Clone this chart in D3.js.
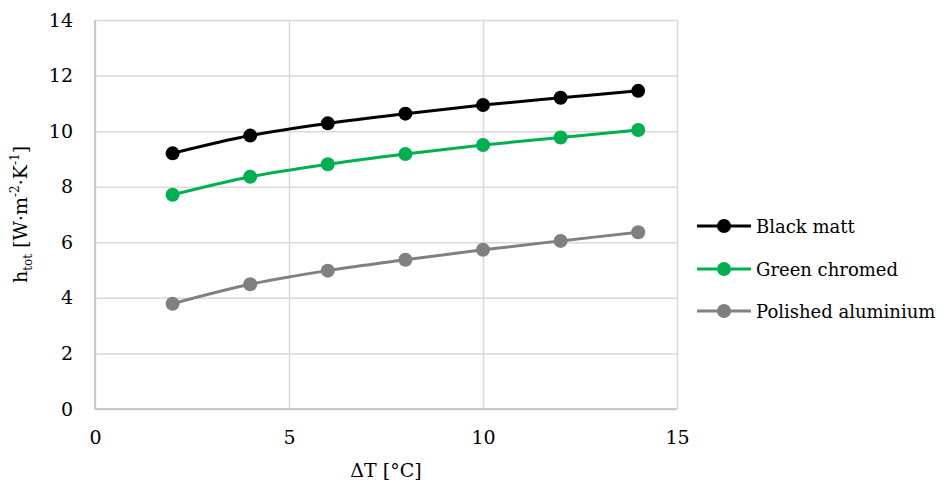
<!DOCTYPE html>
<html>
<head>
<meta charset="utf-8">
<script src="https://cdn.jsdelivr.net/npm/d3@7"></script>
<style>
  body { margin: 0; background: #fff; }
  svg text { font-family: 'DejaVu Serif', serif; }
</style>
</head>
<body>
<div id="chart"></div>
<script>
// data
const deltaT = [2, 4, 6, 8, 10, 12, 14];
const blackMatt = [9.2, 9.84, 10.28, 10.63, 10.94, 11.2, 11.45];
const greenChromed = [7.71, 8.36, 8.81, 9.18, 9.5, 9.77, 10.04];
const polishedAluminium = [3.79, 4.49, 4.98, 5.37, 5.73, 6.05, 6.36];
const seriesNames = ['Black matt', 'Green chromed', 'Polished aluminium'];
const seriesColors = ['#000000', '#00b050', '#808080'];
const xTicks = [0, 5, 10, 15];
const yTicks = [0, 2, 4, 6, 8, 10, 12, 14];

const width = 951, height = 486;
const margin = { left: 95, right: 274, top: 20, bottom: 77 };
const fontSize = 19;

const svg = d3.select('#chart')
  .append('svg')
  .attr('width', width)
  .attr('height', height);

const x = d3.scaleLinear().domain([0, 15]).range([margin.left, width - margin.right]);
const y = d3.scaleLinear().domain([0, 14]).range([height - margin.bottom, margin.top]);

// gridlines
svg.append('g')
  .attr('transform', `translate(0,${height - margin.bottom})`)
  .call(d3.axisBottom(x).tickValues(xTicks).tickSize(-(height - margin.top - margin.bottom)).tickFormat(''))
  .call(g => g.select('.domain').remove())
  .selectAll('line').attr('stroke', '#d9d9d9').attr('stroke-width', 1.5);

svg.append('g')
  .attr('transform', `translate(${margin.left},0)`)
  .call(d3.axisLeft(y).tickValues(yTicks).tickSize(-(width - margin.left - margin.right)).tickFormat(''))
  .call(g => g.select('.domain').remove())
  .selectAll('line').attr('stroke', '#d9d9d9').attr('stroke-width', 1.5);

// axis lines
svg.append('line')
  .attr('x1', x(0)).attr('x2', x(15)).attr('y1', y(0)).attr('y2', y(0))
  .attr('stroke', '#bfbfbf').attr('stroke-width', 1.5);
svg.append('line')
  .attr('x1', x(0)).attr('x2', x(0)).attr('y1', y(0)).attr('y2', y(14))
  .attr('stroke', '#bfbfbf').attr('stroke-width', 1.5);

// tick labels
const xAxis = svg.append('g')
  .attr('transform', `translate(0,${height - margin.bottom})`)
  .call(d3.axisBottom(x).tickValues(xTicks).tickSize(0).tickPadding(22));
xAxis.select('.domain').remove();
xAxis.selectAll('text').attr('font-size', fontSize).attr('fill', '#000');

const yAxis = svg.append('g')
  .attr('transform', `translate(${margin.left},0)`)
  .call(d3.axisLeft(y).tickValues(yTicks).tickSize(0).tickPadding(22));
yAxis.select('.domain').remove();
yAxis.selectAll('text').attr('font-size', fontSize).attr('fill', '#000');

// axis titles
svg.append('text')
  .attr('x', (x(0) + x(15)) / 2)
  .attr('y', 477)
  .attr('text-anchor', 'middle')
  .attr('font-size', fontSize)
  .text('ΔT [°C]');

const yTitle = svg.append('text')
  .attr('text-anchor', 'middle')
  .attr('transform', `translate(27,${(y(0) + y(14)) / 2}) rotate(-90)`)
  .attr('font-size', fontSize);
yTitle.append('tspan').text('h');
yTitle.append('tspan').attr('dy', 5).attr('font-size', 12).text('tot');
yTitle.append('tspan').attr('dy', -5).text(' [W·m');
yTitle.append('tspan').attr('dy', -8).attr('font-size', 12).text('-2');
yTitle.append('tspan').attr('dy', 8).text('·K');
yTitle.append('tspan').attr('dy', -8).attr('font-size', 12).text('-1');
yTitle.append('tspan').attr('dy', 8).text(']');

// series
const allSeries = [blackMatt, greenChromed, polishedAluminium];
const line = d3.line()
  .x(d => x(d.t))
  .y(d => y(d.v))
  .curve(d3.curveCatmullRom.alpha(0.5));

allSeries.forEach((vals, i) => {
  const pts = deltaT.map((t, j) => ({ t, v: vals[j] }));
  svg.append('path')
    .datum(pts)
    .attr('fill', 'none')
    .attr('stroke', seriesColors[i])
    .attr('stroke-width', 3)
    .attr('d', line);
  svg.selectAll(null)
    .data(pts)
    .enter()
    .append('circle')
    .attr('cx', d => x(d.t))
    .attr('cy', d => y(d.v))
    .attr('r', 7)
    .attr('fill', seriesColors[i]);
});

// legend
const legend = svg.append('g').attr('transform', 'translate(697,0)');
const legendY = [226, 269, 311];
seriesNames.forEach((name, i) => {
  legend.append('line')
    .attr('x1', 0).attr('x2', 54)
    .attr('y1', legendY[i]).attr('y2', legendY[i])
    .attr('stroke', seriesColors[i]).attr('stroke-width', 3);
  legend.append('circle')
    .attr('cx', 27).attr('cy', legendY[i]).attr('r', 7)
    .attr('fill', seriesColors[i]);
  legend.append('text')
    .attr('x', 59).attr('y', legendY[i] + 7)
    .attr('font-size', 18)
    .text(name);
});
</script>
</body>
</html>
